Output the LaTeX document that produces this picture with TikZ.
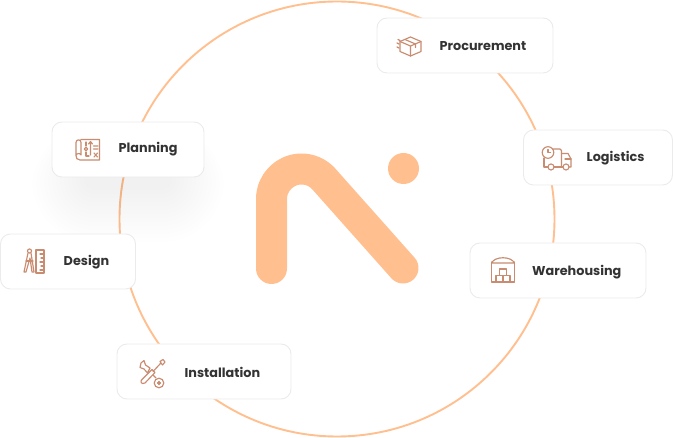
\documentclass[tikz,border=0pt]{standalone}
\usepackage{fontspec}
\setmainfont{Poppins}
\usetikzlibrary{positioning}
\definecolor{ringcol}{HTML}{FFBF8F}
\definecolor{iconcol}{HTML}{C98C70}
\definecolor{cardline}{HTML}{EBEBEB}
\definecolor{textcol}{HTML}{333333}

\begin{document}
\begin{tikzpicture}[
        x=1pt, y=-1pt,
        card/.style={draw=cardline, fill=white, line width=0.9pt, rounded corners=10pt, minimum height=55pt},
        lbl/.style={font=\fontsize{12.8}{16}\selectfont\bfseries, text=textcol, inner sep=0pt, anchor=base west},
        icon/.style={draw=iconcol, line width=1.15pt, line cap=round, line join=round}
    ]
    \useasboundingbox (0,0) rectangle (673,438);

    \draw[ringcol, line width=1.9pt] (337,219) circle [radius=217.5];

    % shadow under the planning card
    \foreach \g in {1,...,14} {
        \pgfmathsetmacro{\rad}{6+4*\g}
        \fill[black, opacity=0.004, rounded corners=\rad pt] (88-4*\g,160-2.4*\g) rectangle (168+4*\g,186+4*\g);
    }

    % logo
    \draw[ringcol, line width=31pt, line cap=round, line join=round]
        (271.5,268.5) -- (271.5,199) arc[start angle=180, end angle=317.6, radius=30] -- (403,268);
    \fill[ringcol] (403.5,168.5) circle [radius=15.5];

    % cards
    \node[card, minimum width=152pt] (planning) at (128,149.5) {};
    \node[card, minimum width=135pt] (design) at (68,261.5) {};
    \node[card, minimum width=174pt] (installation) at (204,371.5) {};
    \node[card, minimum width=176pt] (procurement) at (465,45.5) {};
    \node[card, minimum width=149pt] (logistics) at (598,157.5) {};
    \node[card, minimum width=176pt] (warehousing) at (558,270.5) {};

    \node[lbl] (planninglbl) at (118.5,153) {Planning};
    \node[lbl] (designlbl) at (63.5,266) {Design};
    \node[lbl] (installationlbl) at (184.5,377.3) {Installation};
    \node[lbl] (procurementlbl) at (439.5,51) {Procurement};
    \node[lbl] (logisticslbl) at (586.5,162) {Logistics};
    \node[lbl] (warehousinglbl) at (532,276) {Warehousing};

    % planning icon
    \begin{scope}[icon]
        \draw (81,139.5) -- (99.5,139.5) -- (99.5,160) -- (80,160) .. controls (77,160) and (76,158) .. (76,155.5) -- (76,142.5) .. controls (76,139) and (81,139) .. (81,142.5) -- (81,155) .. controls (81,153) and (76,153) .. (76,155.5);
        \draw (86,149) circle [radius=1.8];
        \draw (86,142) -- (86,146) (86,152) -- (86,156) -- (89,156) ;
        \draw (90.5,155) -- (90.5,142) (88.5,144) -- (90.5,141.5) -- (92.5,144);
        \draw (93.5,146) -- (98,146) (93.5,149) -- (98,149) (94,153) -- (97.5,157) (97.5,153) -- (94,157);
    \end{scope}

    % design icon
    \begin{scope}[icon]
        \draw (36,250) -- (44,250) -- (44,273) -- (36,273) -- cycle;
        \draw (44,254) -- (40,254) (44,258) -- (41,258) (44,262) -- (40,262) (44,266) -- (41,266) (44,270) -- (40,270);
        \draw (29.5,251) circle [radius=2];
        \draw (28,253) -- (24,272) -- (26,272) -- (30,258) -- (32,272) -- (34,272) -- (31,253);
        \draw (26,261) -- (33,261);
    \end{scope}

    % installation icon
    \begin{scope}[icon]
        \draw (160,361.5) -- (163,359.5) -- (165,362) -- (162.5,365) -- cycle;
        \draw (160.5,363.5) -- (153,371.5);
        \draw (152,369.5) -- (155,372.5) -- (145,383) .. controls (141,385) and (140,381) .. (142,379.5) -- cycle;
        \draw (141,363) -- (144,360.5) -- (145.5,365) -- (150,368) -- (147.5,373) -- (144,369) -- (140,367.5) -- cycle;
        \draw (153,375) -- (156,378);
        \draw (159,383) circle [radius=4.8];
        \draw (159,381.5) -- (159,384.5) (157.5,383) -- (160.5,383);
    \end{scope}

    % procurement icon
    \begin{scope}[icon]
        \draw (410.5,37) -- (421,41.5) -- (421,51.5) -- (410.5,56) -- (400,51.5) -- (400,41.5) -- cycle;
        \draw (400,41.5) -- (410.5,46) -- (421,41.5) (410.5,46) -- (410.5,56);
        \draw (405,39.5) -- (415.5,44) -- (415.5,47.5);
        \draw (398,39.5) -- (400,40.5) (397,43) -- (399,44) (397,47) -- (399,48);
    \end{scope}

    % logistics icon
    \begin{scope}[icon]
        \draw (548,152.5) circle [radius=5.8];
        \draw (548,149.5) -- (548,152.5) -- (550.5,152.5);
        \draw (553,149) -- (560,149) arc[start angle=270, end angle=360, radius=1.5] -- (561.5,167);
        \draw (561.5,153.5) -- (568,153.5) -- (571,159) -- (571,167) -- (569,167);
        \draw (544,158) -- (544,167) -- (548,167) (565,159) -- (571,159);
        \draw (551,167) circle [radius=3] (566,167) circle [radius=3];
        \draw (554,167) -- (563,167);
    \end{scope}

    % warehousing icon
    \begin{scope}[icon]
        \draw (491.5,262) -- (491.5,282) -- (514.5,282) -- (514.5,262);
        \draw (491.5,263) .. controls (495,256) and (511,256) .. (514.5,263) -- cycle;
        \draw (499.5,269) rectangle (506.5,275.5);
        \draw (496,275.5) rectangle (503,282) (503,275.5) rectangle (510,282);
    \end{scope}
\end{tikzpicture}
\end{document}
